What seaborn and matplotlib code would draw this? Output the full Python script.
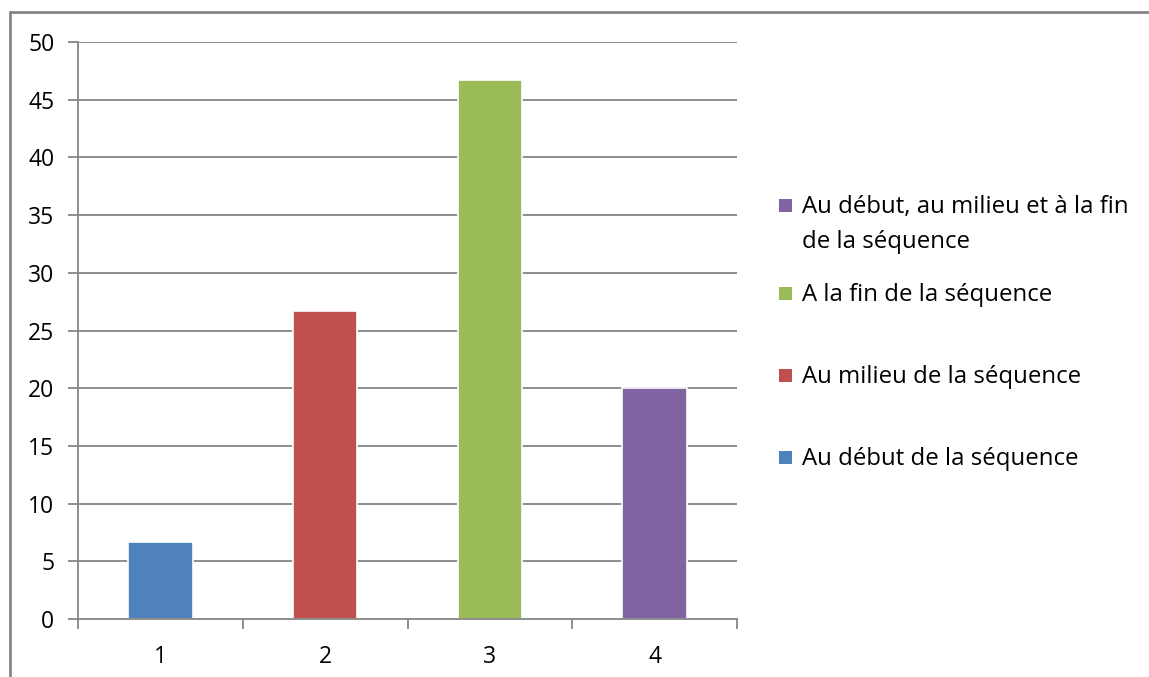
import matplotlib
matplotlib.use("Agg")
import matplotlib.pyplot as plt
import seaborn as sns
import pandas as pd
from matplotlib.patches import Rectangle
from matplotlib.lines import Line2D

# données
categories = ["1", "2", "3", "4"]
values = [6.67, 26.67, 46.67, 20.0]
series = [
    "Au début de la séquence",
    "Au milieu de la séquence",
    "A la fin de la séquence",
    "Au début, au milieu et à la fin\nde la séquence",
]
colors = ["#4F81BD", "#C0504D", "#9BBB59", "#8064A2"]
y_ticks = [0, 5, 10, 15, 20, 25, 30, 35, 40, 45, 50]

sns.set_theme(style="white")
plt.rcParams["font.family"] = ["Open Sans", "DejaVu Sans"]
plt.rcParams["text.color"] = "black"

W, H = 1149, 677
df = pd.DataFrame({"cat": categories, "val": values, "serie": series})

fig = plt.figure(figsize=(W / 100, H / 100), dpi=100)
ax = fig.add_axes([78 / W, 1 - 619 / H, (737 - 78) / W, (619 - 42) / H])

grid_col = "#868686"
for t in y_ticks[1:]:
    ax.axhline(t, color=grid_col, lw=1.3, zorder=0)

sns.barplot(data=df, x="cat", y="val", hue="serie", palette=colors,
            dodge=False, width=0.39, saturation=1, edgecolor="white", linewidth=1.2,
            legend=False, ax=ax, zorder=2)

ax.set_ylim(0, 50)
ax.set_xlim(-0.5, 3.5)
ax.set_yticks(y_ticks)
ax.set_xlabel("")
ax.set_ylabel("")

for side in ["top", "right"]:
    ax.spines[side].set_visible(False)
for side in ["left", "bottom"]:
    ax.spines[side].set_color(grid_col)
    ax.spines[side].set_linewidth(1.3)

ax.tick_params(axis="y", which="major", direction="out", length=7, width=1.3,
               color=grid_col, labelsize=16.5, labelcolor="black", pad=10, left=True)
ax.tick_params(axis="x", which="major", length=0, labelsize=16.5,
               labelcolor="black", pad=19)
ax.set_xticks([-0.5, 0.5, 1.5, 2.5, 3.5], minor=True)
ax.tick_params(axis="x", which="minor", direction="out", length=7, width=1.3,
               color=grid_col, bottom=True)

# légende façon Excel (ordre inversé, espacement irrégulier)
leg_y = [457, 375, 293, 205]
for col, lab, yc in zip(colors, series, leg_y):
    fig.add_artist(Rectangle((779 / W, 1 - (yc + 6.5) / H), 13 / W, 13 / H,
                             transform=fig.transFigure, facecolor=col,
                             edgecolor="none"))
    lines = lab.split("\n")
    for i, line in enumerate(lines):
        fig.text(802 / W, 1 - (yc + 2 + i * 35) / H, line, fontsize=17.3,
                 color="black", va="center", ha="left")

# cadre extérieur
fig.add_artist(Line2D([10 / W, 10 / W], [0, 1 - 12 / H],
                      transform=fig.transFigure, color=grid_col, lw=2))
fig.add_artist(Line2D([10 / W, 1], [1 - 12 / H, 1 - 12 / H],
                      transform=fig.transFigure, color=grid_col, lw=2))

fig.savefig("out.png", dpi=100)
